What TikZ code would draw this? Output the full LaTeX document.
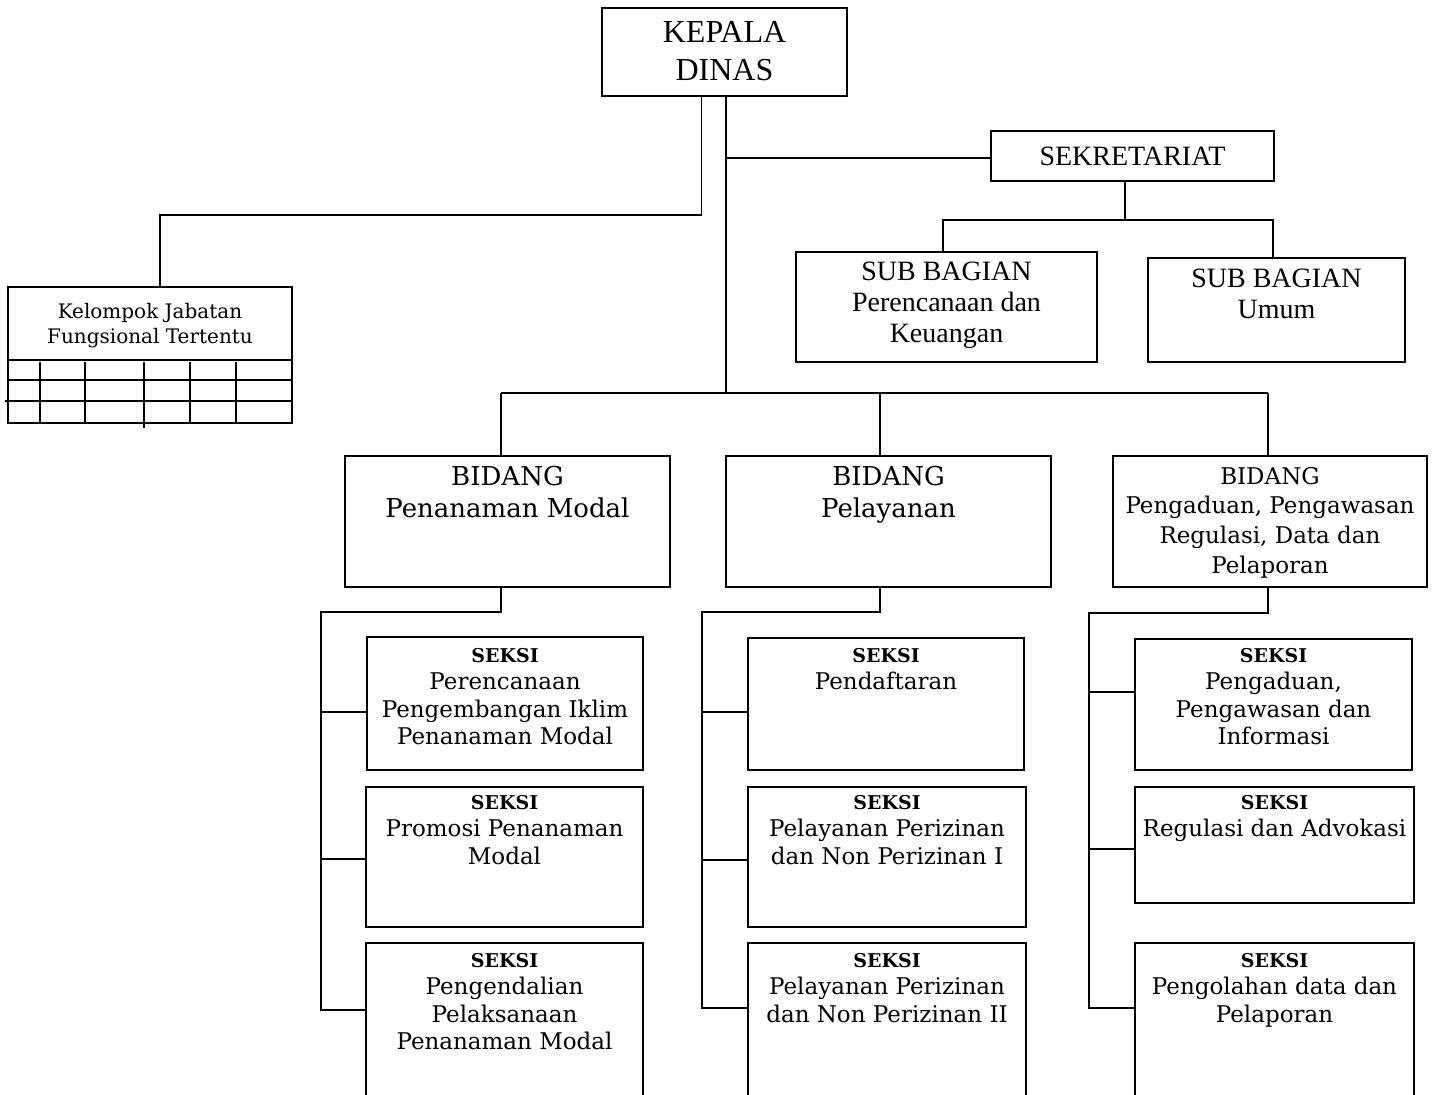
\documentclass[tikz,border=0pt]{standalone}
\usepackage{fontspec}
\setmainfont{DejaVu Serif}
\newfontfamily\tmsfont{Liberation Serif}
\newcommand\bx[5]{\node[box, minimum width={#4-#2}, minimum height={#5-#3}] (#1) at ({(#2+#4)/2},{(#3+#5)/2}) {};}
\newcommand\seksihd{{\fontsize{19}{27.5}\selectfont\bfseries SEKSI}}
\begin{document}
\begin{tikzpicture}[x=1pt,y=-1pt,
  box/.style={draw, line width=1.8pt, inner sep=0pt},
  ln/.style={line width=1.8pt},
  tx/.style={inner sep=0pt, align=center, anchor=north},
  ftop/.style={font=\tmsfont\fontsize{32}{38}\selectfont},
  fsub/.style={font=\tmsfont\fontsize{28}{31}\selectfont},
  fbid/.style={font=\fontsize{26}{32}\selectfont},
  fbid3/.style={font=\fontsize{23}{29.7}\selectfont},
  fsek/.style={font=\fontsize{23}{27.5}\selectfont},
  fkel/.style={font=\fontsize{20}{25}\selectfont}]
\path[use as bounding box, clip] (0,0) rectangle (1447,1094);
\fill[white] (0,0) rectangle (1447,1094);

% boxes
\bx{kepala}{602}{8}{847}{96}
\bx{sek}{991}{131}{1274}{181}
\bx{sb1}{796}{252}{1097}{362}
\bx{sb2}{1148}{258}{1405}{362}
\bx{kjf}{8}{287}{292}{423}
\bx{b1}{345}{456}{670}{587}
\bx{b2}{726}{456}{1051}{587}
\bx{b3}{1113}{456}{1427}{587}
\bx{s1a}{367}{637}{643}{770}
\bx{s1b}{366}{787}{643}{927}
\bx{s1c}{366}{943}{643}{1110}
\bx{s2a}{748}{638}{1024}{770}
\bx{s2b}{748}{787}{1026}{927}
\bx{s2c}{748}{943}{1026}{1110}
\bx{s3a}{1135}{639}{1412}{770}
\bx{s3b}{1135}{787}{1414}{903}
\bx{s3c}{1135}{943}{1414}{1110}

% texts
\node[tx, ftop] (kepala-t) at (kepala.north |- 0,21) {KEPALA\\DINAS};
\node[inner sep=0pt, anchor=base, font=\tmsfont\fontsize{28}{31}\selectfont] (sek-t) at (sek.north |- 0,166) {SEKRETARIAT};
\node[tx, fsub] (sb1-t) at (sb1.north |- 0,262) {SUB BAGIAN\\Perencanaan dan\\Keuangan};
\node[tx, fsub] (sb2-t) at (sb2.north |- 0,269) {SUB BAGIAN\\Umum};
\node[tx, fkel] (kjf-t) at (kjf.north |- 0,303) {Kelompok Jabatan\\Fungsional Tertentu};
\node[tx, fbid] (b1-t) at (b1.north |- 0,466) {BIDANG\\Penanaman Modal};
\node[tx, fbid] (b2-t) at (b2.north |- 0,466) {BIDANG\\Pelayanan};
\node[tx, fbid3] (b3-t) at (b3.north |- 0,467) {BIDANG\\Pengaduan, Pengawasan\\Regulasi, Data dan\\Pelaporan};
\node[tx, fsek] (s1a-t) at (s1a.north |- 0,648) {\seksihd\\Perencanaan\\Pengembangan Iklim\\Penanaman Modal};
\node[tx, fsek] (s1b-t) at (s1b.north |- 0,795) {\seksihd\\Promosi Penanaman\\Modal};
\node[tx, fsek] (s1c-t) at (s1c.north |- 0,953) {\seksihd\\Pengendalian\\Pelaksanaan\\Penanaman Modal};
\node[tx, fsek] (s2a-t) at (s2a.north |- 0,648) {\seksihd\\Pendaftaran};
\node[tx, fsek] (s2b-t) at (s2b.north |- 0,795) {\seksihd\\Pelayanan Perizinan\\dan Non Perizinan I};
\node[tx, fsek] (s2c-t) at (s2c.north |- 0,953) {\seksihd\\Pelayanan Perizinan\\dan Non Perizinan II};
\node[tx, fsek] (s3a-t) at (s3a.north |- 0,648) {\seksihd\\Pengaduan,\\Pengawasan dan\\Informasi};
\node[tx, fsek] (s3b-t) at (s3b.north |- 0,795) {\seksihd\\Regulasi dan Advokasi};
\node[tx, fsek] (s3c-t) at (s3c.north |- 0,953) {\seksihd\\Pengolahan data dan\\Pelaporan};

% kelompok grid
\draw[ln] (8,360) -- (292,360);
\draw[ln] (8,380) -- (292,380);
\draw[ln] (5,401) -- (292,401);
\foreach \gx in {40,85,190,236} \draw[ln] (\gx,362) -- (\gx,423);
\draw[ln] (144,362) -- (144,428);

% connectors
\coordinate (jf) at (160,215);
\coordinate (bus) at (726,393);
\coordinate (d1) at (501,393);
\coordinate (d2) at (880,393);
\coordinate (d3) at (1268,393);
\coordinate (sd) at (1125,220);
\coordinate (sl) at (943,220);
\coordinate (sr) at (1273,220);
\draw[ln] ([xshift=-23pt]kepala.south) |- (jf) -- (jf |- kjf.north);
\draw[ln] (kepala.south -| bus) -- (bus);
\draw[ln] (kepala.south -| bus) ++(0,61) coordinate (sekj) -- (sekj -| sek.west);
\draw[ln] (sd |- sek.south) -- (sd);
\draw[ln] (sl |- sb1.north) -- (sl) -- (sr) -- (sr |- sb2.north);
\draw[ln] (d1) -- (d3);
\draw[ln] (d1) -- (d1 |- b1.north);
\draw[ln] (d2) -- (d2 |- b2.north);
\draw[ln] (d3) -- (d3 |- b3.north);

% column 1
\coordinate (c1) at (321,612);
\draw[ln] (d1 |- b1.south) |- (c1) -- (321,1010) -- (s1c.west |- 0,1010);
\draw[ln] (321,712) -- (s1a.west |- 0,712);
\draw[ln] (321,859) -- (s1b.west |- 0,859);
% column 2
\coordinate (c2) at (702,612);
\draw[ln] (d2 |- b2.south) |- (c2) -- (702,1008) -- (s2c.west |- 0,1008);
\draw[ln] (702,712) -- (s2a.west |- 0,712);
\draw[ln] (702,860) -- (s2b.west |- 0,860);
% column 3
\coordinate (c3) at (1089,613);
\draw[ln] (d3 |- b3.south) |- (c3) -- (1089,1008) -- (s3c.west |- 0,1008);
\draw[ln] (1089,692) -- (s3a.west |- 0,692);
\draw[ln] (1089,849) -- (s3b.west |- 0,849);
\end{tikzpicture}
\end{document}
